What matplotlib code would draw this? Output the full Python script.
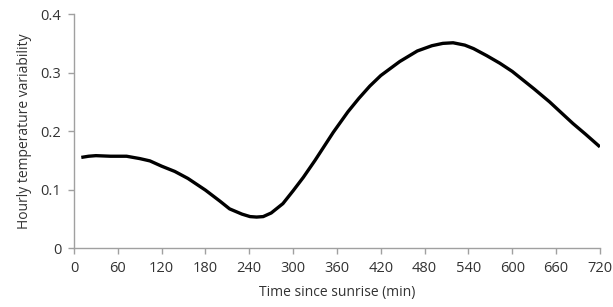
import matplotlib
matplotlib.use("Agg")
import matplotlib.pyplot as plt

# minutes since sunrise and hourly temperature variability
minutes = [10, 20, 30, 50, 72, 90, 104, 120, 138, 156, 180, 200, 213, 230,
           241, 250, 259, 270, 286, 300, 314, 330, 355, 375, 390, 405, 420,
           446, 470, 490, 505, 519, 535, 547, 565, 583, 600, 615, 630, 651,
           670, 683, 700, 720]
variability = [0.155, 0.157, 0.158, 0.157, 0.157, 0.153, 0.149, 0.140, 0.131,
               0.119, 0.099, 0.080, 0.067, 0.058, 0.0538, 0.053, 0.0538, 0.060,
               0.076, 0.098, 0.121, 0.150, 0.198, 0.233, 0.256, 0.277, 0.295,
               0.319, 0.337, 0.346, 0.350, 0.351, 0.347, 0.341, 0.329, 0.316,
               0.302, 0.287, 0.272, 0.250, 0.228, 0.213, 0.195, 0.173]

x_ticks = list(range(0, 721, 60))
y_ticks = [0, 0.1, 0.2, 0.3, 0.4]
y_labels = ["0", "0.1", "0.2", "0.3", "0.4"]

plt.rcParams["font.family"] = ["Open Sans", "DejaVu Sans"]

fig = plt.figure(figsize=(6.13, 3.07), dpi=100)
ax = fig.add_axes([0.1207, 0.192, 0.858, 0.762])

ax.plot(minutes, variability, color="black", lw=2.4,
        solid_joinstyle="round", solid_capstyle="butt")

ax.set_xlim(0, 720)
ax.set_ylim(0, 0.4)
ax.set_xticks(x_ticks)
ax.set_yticks(y_ticks)
ax.set_yticklabels(y_labels)

for side in ("top", "right"):
    ax.spines[side].set_visible(False)
for side in ("left", "bottom"):
    ax.spines[side].set_color("#a0a0a0")
    ax.spines[side].set_linewidth(1.0)

ax.tick_params(axis="both", colors="#a0a0a0", labelcolor="#333333",
               labelsize=10.5, length=4, width=1.0)
ax.tick_params(axis="x", pad=5)
ax.tick_params(axis="y", pad=5)

ax.set_xlabel("Time since sunrise (min)", fontsize=10, color="#333333", labelpad=7)
ax.set_ylabel("Hourly temperature variability", fontsize=10, color="#333333", labelpad=6)

fig.savefig("out.png", dpi=100)
